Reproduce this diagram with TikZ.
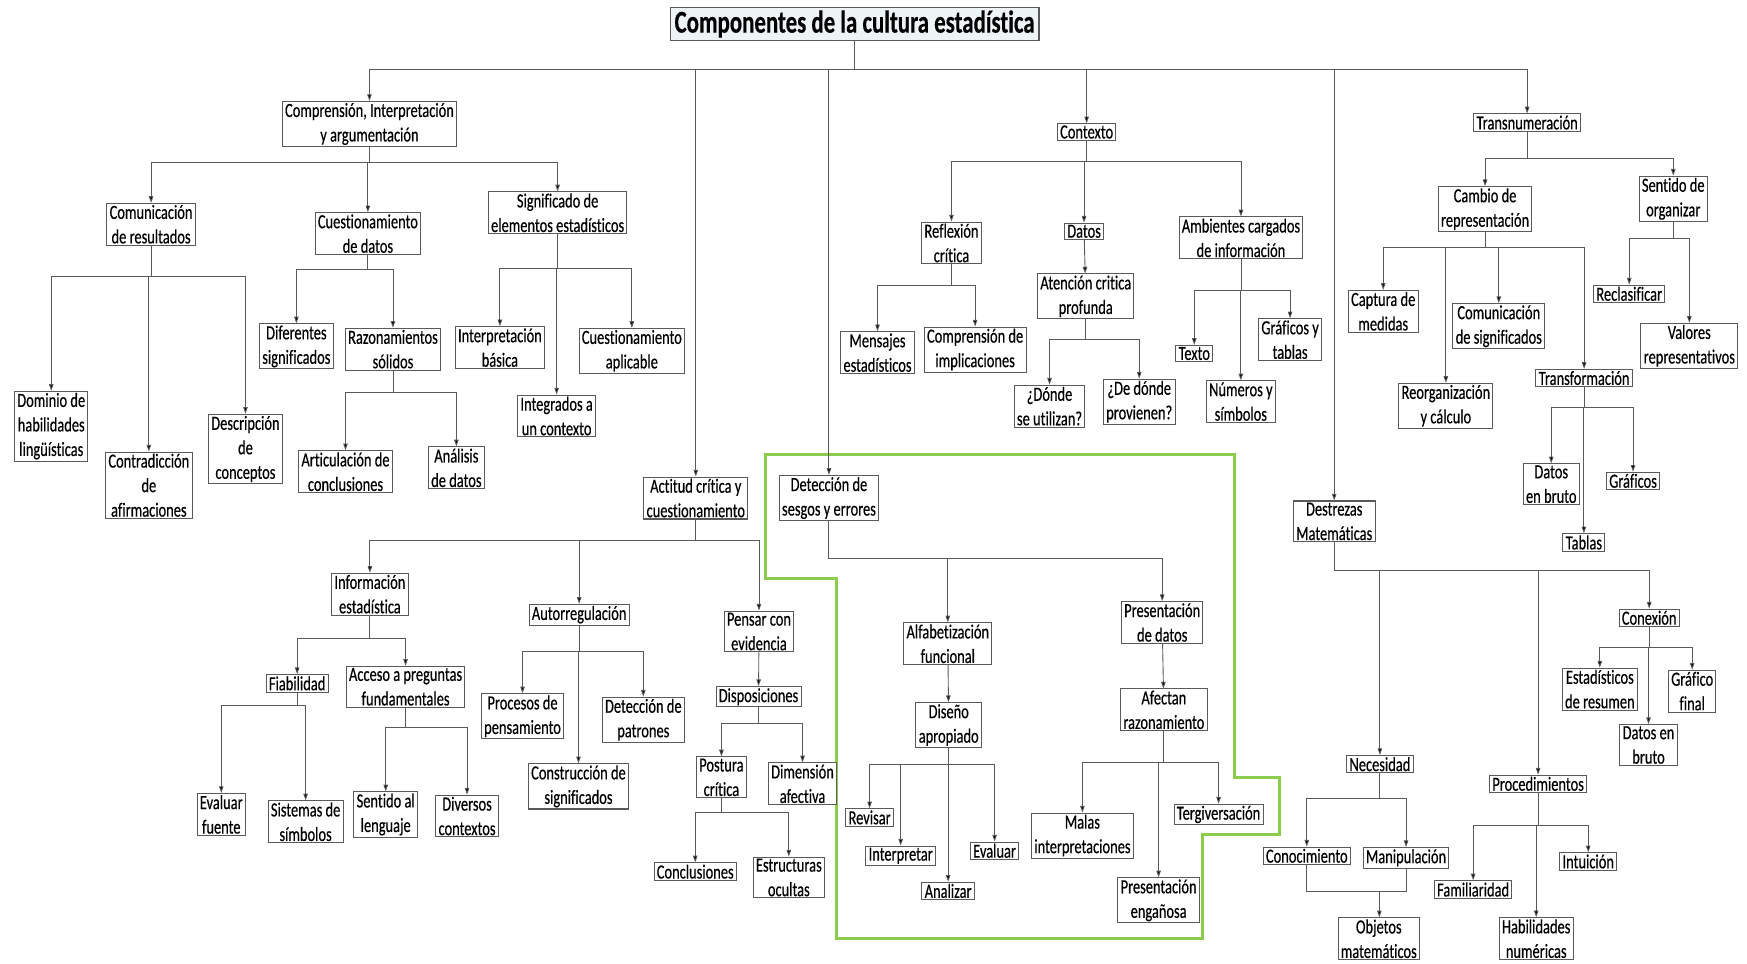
\documentclass[tikz,border=0pt]{standalone}
\usepackage{fontspec}
\setmainfont{Carlito}[FakeStretch=0.72,FakeBold=0.4,Ligatures=NoCommon]
\usetikzlibrary{arrows.meta}
\definecolor{boxline}{HTML}{5A5A5A}
\definecolor{titlefill}{HTML}{EEF4F6}
\definecolor{marco}{HTML}{8CCE4C}
\tikzset{
box/.style={draw=boxline,line width=0.9pt,fill=white,align=center,
  inner xsep=2.5pt,inner ysep=1.5pt,font=\fontsize{18}{22}\selectfont},
titlebox/.style={box,fill=titlefill,inner xsep=4pt,inner ysep=2.5pt,
  font=\fontsize{28.5}{30}\selectfont\bfseries},
link/.style={draw=boxline,line width=0.8pt,-{Triangle[length=6pt,width=4pt,fill=black]}},
plain/.style={draw=boxline,line width=0.8pt},
}

\begin{document}
\begin{tikzpicture}[x=1pt,y=-1pt]
\useasboundingbox (0,0) rectangle (1568,865);
% the frame round the detection branch
\draw[marco,line width=2.8pt] (687,408) -- (1108,408) -- (1108,698) -- (1148,698)
  -- (1148,749) -- (1079,749) -- (1079,842) -- (751,842) -- (751,519) -- (687,519) -- cycle;

% the nodes
\node[titlebox] (title) at (767,21.5) {Componentes de la cultura estadística};

\node[box] (comp) at (331.6,111.3) {Comprensión, Interpretación\\y argumentación};
\node[box] (comunic) at (135.6,201.3) {Comunicación\\de resultados};
\node[box] (cuestdat) at (330.2,209.7) {Cuestionamiento\\de datos};
\node[box] (signif) at (500.5,191) {Significado de\\elementos estadísticos};
\node[box] (dominio) at (46,382.5) {Dominio de\\habilidades\\lingüísticas};
\node[box] (contrad) at (133.6,435.5) {Contradicción\\de\\afirmaciones};
\node[box] (descrip) at (220.3,403) {Descripción\\de\\conceptos};
\node[box] (diferent) at (266,310.9) {Diferentes\\significados};
\node[box] (razon) at (352.7,313.4) {Razonamientos\\sólidos};
\node[box] (articul) at (310.1,423.4) {Articulación de\\conclusiones};
\node[box] (analisis) at (409.6,419.9) {Análisis\\de datos};
\node[box] (interp) at (448.7,312) {Interpretación\\básica};
\node[box] (integr) at (499.6,373.4) {Integrados a\\un contexto};
\node[box] (cuestap) at (567.1,314.9) {Cuestionamiento\\aplicable};

\node[box] (contexto) at (975.3,118.5) {Contexto};
\node[box] (reflex) at (854,218.1) {Reflexión\\crítica};
\node[box] (datos) at (973,207.6) {Datos};
\node[box] (ambient) at (1113.8,213.5) {Ambientes cargados\\de información};
\node[box] (mensaj) at (787.6,316.5) {Mensajes\\estadísticos};
\node[box] (compimp) at (875.2,313.7) {Comprensión de\\implicaciones};
\node[box] (atencion) at (974.5,266) {Atención critica\\profunda};
\node[box] (donde) at (942,364.5) {¿Dónde\\se utilizan?};
\node[box] (dedonde) at (1022.5,360.5) {¿De dónde\\provienen?};
\node[box] (texto) at (1071.9,317.3) {Texto};
\node[box] (graftab) at (1157.9,304.9) {Gráficos y\\tablas};
\node[box] (numeros) at (1113.7,360.5) {Números y\\símbolos};

\node[box] (transnum) at (1370.7,110) {Transnumeración};
\node[box] (cambio) at (1332.9,187.7) {Cambio de\\representación};
\node[box] (sentido) at (1501.8,178.4) {Sentido de\\organizar};
\node[box] (captura) at (1241.5,279.4) {Captura de\\medidas};
\node[box] (reorg) at (1297.7,364.2) {Reorganización\\y cálculo};
\node[box] (comsig) at (1345.2,292.8) {Comunicación\\de significados};
\node[box] (transf) at (1421.8,339.3) {Transformación};
\node[box] (reclas) at (1462.3,263.7) {Reclasificar};
\node[box] (valores) at (1516.2,310.4) {Valores\\representativos};
\node[box] (datbruto) at (1392.3,434.6) {Datos\\en bruto};
\node[box] (graficos) at (1465.7,431.6) {Gráficos};
\node[box] (tablas) at (1421.6,486.9) {Tablas};

\node[box] (destrezas) at (1197.5,468) {Destrezas\\Matemáticas};
\node[box] (necesid) at (1238.5,685.9) {Necesidad};
\node[box] (proced) at (1380.5,703.5) {Procedimientos};
\node[box] (conexion) at (1480.2,554.5) {Conexión};
\node[box] (estad) at (1435.9,618.5) {Estadísticos\\de resumen};
\node[box] (graffin) at (1518.8,620.3) {Gráfico\\final};
\node[box] (datbruto2) at (1479.6,668.7) {Datos en\\bruto};
\node[box] (conocim) at (1172.9,768.1) {Conocimiento};
\node[box] (manip) at (1262,769.9) {Manipulación};
\node[box] (objetos) at (1237.5,842.6) {Objetos\\matemáticos};
\node[box] (famil) at (1322.2,798.4) {Familiaridad};
\node[box] (intuic) at (1425.5,773.2) {Intuición};
\node[box] (habil) at (1378.8,842.5) {Habilidades\\numéricas};

\node[box] (actitud) at (624.5,447) {Actitud crítica y\\cuestionamiento};
\node[box] (infoest) at (332,533.3) {Información\\estadística};
\node[box] (autorreg) at (519.8,551.7) {Autorregulación};
\node[box] (pensar) at (681.2,566.8) {Pensar con\\evidencia};
\node[box] (fiab) at (266.7,613.3) {Fiabilidad};
\node[box] (acceso) at (364,616.4) {Acceso a preguntas\\fundamentales};
\node[box] (evalf) at (198.6,731) {Evaluar\\fuente};
\node[box] (sistemas) at (274.3,737.6) {Sistemas de\\símbolos};
\node[box] (sentlen) at (346.2,731) {Sentido al\\lenguaje};
\node[box] (diversos) at (419.2,732.4) {Diversos\\contextos};
\node[box] (procesos) at (469,642.9) {Procesos de\\pensamiento};
\node[box] (construc) at (519.2,705.8) {Construcción de\\significados};
\node[box] (detpatr) at (577.4,645.9) {Detección de\\patrones};
\node[box] (dispos) at (680.8,625.4) {Disposiciones};
\node[box] (postura) at (647.5,697.7) {Postura\\crítica};
\node[box] (dimens) at (720.3,703.5) {Dimensión\\afectiva};
\node[box] (conclus) at (624,782.3) {Conclusiones};
\node[box] (estruct) at (708,787.6) {Estructuras\\ocultas};

\node[box] (deteccion) at (744,447) {Detección de\\sesgos y errores};
\node[box] (alfab) at (850.7,577.8) {Alfabetización\\funcional};
\node[box] (presdat) at (1043.1,558.7) {Presentación\\de datos};
\node[box] (diseno) at (851.5,650.8) {Diseño\\apropiado};
\node[box] (revisar) at (780.5,733.7) {Revisar};
\node[box] (interpretar) at (808.4,768.1) {Interpretar};
\node[box] (analizar) at (851,799.6) {Analizar};
\node[box] (evaluar) at (892.7,763.6) {Evaluar};
\node[box] (afectan) at (1044.6,637.1) {Afectan\\razonamiento};
\node[box] (malas) at (971.5,749.9) {Malas\\interpretaciones};
\node[box] (tergiv) at (1093.7,731) {Tergiversación};
\node[box] (presen) at (1039.9,808.1) {Presentación\\engañosa};

% the links
\foreach \c in {comp,actitud,deteccion,contexto,destrezas,transnum}
  \draw[link] (title.south) -- (title.south |- 0,62) -| (\c.north);
\foreach \c in {comunic,cuestdat,signif}
  \draw[link] (comp.south) -- (comp.south |- 0,146) -| (\c.north);
\foreach \c in {dominio,contrad,descrip}
  \draw[link] (comunic.south) -- (comunic.south |- 0,248) -| (\c.north);
\foreach \c in {diferent,razon}
  \draw[link] (cuestdat.south) -- (cuestdat.south |- 0,242) -| (\c.north);
\foreach \c in {articul,analisis}
  \draw[link] (razon.south) -- (razon.south |- 0,352) -| (\c.north);
\foreach \c in {interp,integr,cuestap}
  \draw[link] (signif.south) -- (signif.south |- 0,241) -| (\c.north);

\foreach \c in {reflex,datos,ambient}
  \draw[link] (contexto.south) -- (contexto.south |- 0,145) -| (\c.north);
\foreach \c in {mensaj,compimp}
  \draw[link] (reflex.south) -- (reflex.south |- 0,256) -| (\c.north);
\draw[link] (datos) -- (atencion);
\foreach \c in {donde,dedonde}
  \draw[link] (atencion.south) -- (atencion.south |- 0,305) -| (\c.north);
\foreach \c in {texto,graftab,numeros}
  \draw[link] (ambient.south) -- (ambient.south |- 0,261) -| (\c.north);

\foreach \c in {cambio,sentido}
  \draw[link] (transnum.south) -- (transnum.south |- 0,142) -| (\c.north);
\foreach \c in {captura,reorg,comsig,transf}
  \draw[link] (cambio.south) -- (cambio.south |- 0,222) -| (\c.north);
\foreach \c in {reclas,valores}
  \draw[link] (sentido.south) -- (sentido.south |- 0,214) -| (\c.north);
\foreach \c in {datbruto,graficos,tablas}
  \draw[link] (transf.south) -- (transf.south |- 0,366) -| (\c.north);

\foreach \c in {necesid,proced,conexion}
  \draw[link] (destrezas.south) -- (destrezas.south |- 0,512) -| (\c.north);
\foreach \c in {estad,graffin,datbruto2}
  \draw[link] (conexion.south) -- (conexion.south |- 0,581) -| (\c.north);
\foreach \c in {conocim,manip}
  \draw[link] (necesid.south) -- (necesid.south |- 0,717) -| (\c.north);
\coordinate (union) at (1238,800);
\draw[plain] (conocim.south) |- (union) -| (manip.south);
\draw[link] (union) -- (union |- objetos.north);
\foreach \c in {famil,intuic,habil}
  \draw[link] (proced.south) -- (proced.south |- 0,741) -| (\c.north);

\foreach \c in {infoest,autorreg,pensar}
  \draw[link] (actitud.south) -- (actitud.south |- 0,485) -| (\c.north);
\foreach \c in {fiab,acceso}
  \draw[link] (infoest.south) -- (infoest.south |- 0,573) -| (\c.north);
\foreach \c in {evalf,sistemas}
  \draw[link] (fiab.south) -- (fiab.south |- 0,633) -| (\c.north);
\foreach \c in {sentlen,diversos}
  \draw[link] (acceso.south) -- (acceso.south |- 0,653) -| (\c.north);
\foreach \c in {procesos,construc,detpatr}
  \draw[link] (autorreg.south) -- (autorreg.south |- 0,585) -| (\c.north);
\draw[link] (pensar) -- (dispos);
\foreach \c in {postura,dimens}
  \draw[link] (dispos.south) -- (dispos.south |- 0,649) -| (\c.north);
\foreach \c in {conclus,estruct}
  \draw[link] (postura.south) -- (postura.south |- 0,729) -| (\c.north);

\foreach \c in {alfab,presdat}
  \draw[link] (deteccion.south) -- (deteccion.south |- 0,501) -| (\c.north);
\draw[link] (alfab) -- (diseno);
\foreach \c in {revisar,interpretar,analizar,evaluar}
  \draw[link] (diseno.south) -- (diseno.south |- 0,686) -| (\c.north);
\draw[link] (presdat) -- (afectan);
\foreach \c in {malas,tergiv,presen}
  \draw[link] (afectan.south) -- (afectan.south |- 0,684) -| (\c.north);
\end{tikzpicture}
\end{document}
